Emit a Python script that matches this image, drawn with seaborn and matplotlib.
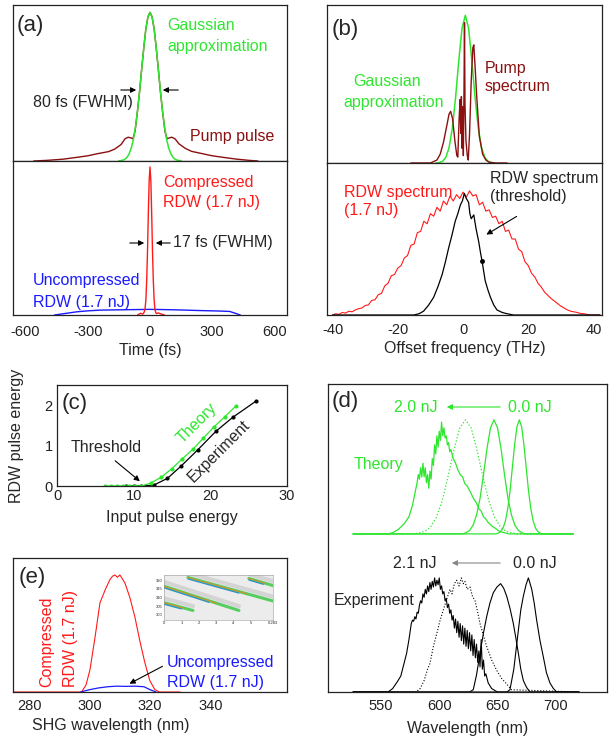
import matplotlib
matplotlib.use("Agg")
import matplotlib.pyplot as plt
import seaborn as sns

# ---------------------------------------------------------------- data
# (a) temporal profiles, time in fs
gauss_a_t = [-150, -140, -130, -120, -110, -100, -90, -80, -70, -60, -50, -40, -30, -20, -10, 0,
             10, 20, 30, 40, 50, 60, 70, 80, 90, 100, 110, 120, 130, 140, 150]
gauss_a_v = [0.001, 0.003, 0.006, 0.013, 0.026, 0.05, 0.088, 0.146, 0.229, 0.339, 0.472, 0.618, 0.763, 0.887, 0.97, 1.0,
             0.97, 0.887, 0.763, 0.618, 0.472, 0.339, 0.229, 0.146, 0.088, 0.05, 0.026, 0.013, 0.006, 0.003, 0.001]
pump_t = [-560, -500, -420, -350, -300, -250, -200, -170, -140, -120, -105, -92, -82, -72, -60, -50, -40, -30,
          -20, -10, 0, 10, 20, 30, 40, 50, 60, 72, 82, 92, 105, 120, 140, 170, 200, 250, 300, 350, 420, 480, 520]
pump_v = [0.0, 0.004, 0.012, 0.025, 0.035, 0.05, 0.063, 0.08, 0.11, 0.15, 0.16, 0.155, 0.15, 0.2, 0.34, 0.47, 0.62, 0.76,
          0.89, 0.97, 1.0, 0.97, 0.89, 0.76, 0.62, 0.47, 0.34, 0.2, 0.15, 0.155, 0.16, 0.15, 0.115, 0.085, 0.065, 0.05,
          0.035, 0.025, 0.012, 0.004, 0.0]
comp_t = [-60, -45, -36, -32, -28, -24, -20, -16, -12, -8, -4, 0, 4, 8, 12, 16, 20, 24, 28, 32, 40, 55, 70]
comp_v = [0.0, 0.012, 0.006, 0.01, 0.02, 0.04, 0.1, 0.23, 0.43, 0.69, 0.91, 1.0, 0.91, 0.69, 0.43, 0.23, 0.1, 0.036,
          0.015, 0.01, 0.014, 0.006, 0.0]
uncomp_t = [-460, -400, -350, -300, -240, -150, -50, 0, 50, 150, 240, 330, 384, 410, 435]
uncomp_v = [0.0, 0.012, 0.022, 0.028, 0.033, 0.035, 0.037, 0.038, 0.037, 0.034, 0.03, 0.027, 0.024, 0.012, 0.0]

# (b) spectra, offset frequency in THz
gauss_b_f = [-8.3, -7.3, -6.3, -5.3, -4.3, -3.3, -2.3, -1.3, -0.3, 0.7, 1.7, 2.7, 3.7, 4.7, 5.7, 6.7, 7.7, 8.7, 9.7]
gauss_b_v = [0.0, 0.003, 0.011, 0.037, 0.102, 0.232, 0.44, 0.695, 0.913, 1.0, 0.913, 0.695, 0.44, 0.232, 0.102,
             0.037, 0.011, 0.003, 0.0]
pump_f = [-16, -10, -8, -7, -6, -5, -4.3, -3.8, -3.2, -2.5, -1.9, -1.6, -1.2, -0.9, -0.7, -0.5, -0.3, -0.1, 0.1,
          0.3, 0.45, 0.6, 0.9, 1.3, 1.6, 2.0, 2.5, 3.0, 3.3, 3.7, 4.2, 5.0, 6.0, 7.0, 8.0, 10.0, 13.5]
pump_s = [0.0, 0.0, 0.02, 0.06, 0.14, 0.25, 0.33, 0.35, 0.3, 0.15, 0.05, 0.04, 0.3, 0.43, 0.2, 0.45, 0.1, 0.38, 0.05,
          0.5, 0.95, 0.4, 0.15, 0.05, 0.02, 0.2, 0.55, 0.78, 0.8, 0.65, 0.45, 0.18, 0.06, 0.02, 0.005, 0.0, 0.0]
rdw_f = [-40, -39, -38, -37, -36, -35, -34, -33, -32, -31, -30, -29, -28, -27, -26, -25, -24, -23, -22, -21,
         -20, -19, -18, -17, -16, -15, -14, -13, -12, -11, -10, -9, -8, -7, -6, -5, -4, -3, -2, -1,
         0, 1, 2, 3, 4, 5, 6, 7, 8, 9, 10, 11, 12, 13, 14, 15, 16, 17, 18, 19,
         20, 21, 22, 23, 24, 25, 26, 27, 28, 29, 30, 31, 32, 33, 34, 35, 36, 37, 38, 39, 40, 41, 42]
rdw_s = [0.0, 0.01, 0.005, 0.02, 0.015, 0.03, 0.025, 0.04, 0.05, 0.055, 0.075, 0.08, 0.115, 0.12, 0.16, 0.17,
         0.23, 0.25, 0.31, 0.32, 0.37, 0.39, 0.45, 0.47, 0.55, 0.56, 0.65, 0.66, 0.74, 0.72, 0.8, 0.78, 0.85, 0.82,
         0.9, 0.87, 0.94, 0.9, 0.95, 0.92, 0.97, 0.93, 0.98, 0.94, 0.95, 0.87, 0.89, 0.82, 0.83, 0.77, 0.78, 0.72,
         0.74, 0.66, 0.67, 0.6, 0.6, 0.52, 0.5, 0.42, 0.39, 0.33, 0.3, 0.25, 0.22, 0.18, 0.155, 0.13, 0.11, 0.09,
         0.07, 0.055, 0.04, 0.03, 0.025, 0.02, 0.012, 0.01, 0.005, 0.0, 0.0, 0.0, 0.0]
thr_f = [-40, -15.1, -13.5, -12.1, -10.5, -9.0, -7.6, -6.4, -5.4, -4.4, -3.4, -2.4, -1.6, -0.8, -0.2, 0.4, 1.0,
         1.7, 2.1, 2.5, 3.3, 4.0, 4.8, 5.3, 5.8, 6.3, 6.8, 7.6, 8.4, 9.4, 10.4, 12.0, 13.5, 15.5, 42]
thr_s = [0.0, 0.0, 0.01, 0.03, 0.08, 0.14, 0.23, 0.32, 0.42, 0.53, 0.63, 0.74, 0.8, 0.87, 0.9, 0.96, 0.92,
         0.89, 0.8, 0.76, 0.79, 0.68, 0.58, 0.5, 0.43, 0.35, 0.27, 0.2, 0.14, 0.08, 0.04, 0.02, 0.01, 0.0, 0.0]

# (c) RDW energy vs input energy
theory_in = [6.2, 7.0, 7.8, 8.6, 9.4, 10.2, 11.0, 12.2, 13.6, 14.96, 16.35, 17.8, 19.1, 20.5, 21.9, 23.35]
theory_out = [0, 0, 0, 0, 0, 0, 0, 0.07, 0.22, 0.43, 0.68, 0.93, 1.2, 1.48, 1.73, 2.0]
exp_in = [9.0, 10.0, 11.0, 12.6, 14.4, 16.2, 18.35, 20.7, 22.9, 25.9]
exp_out = [0, 0, 0, 0.02, 0.19, 0.5, 0.9, 1.36, 1.71, 2.11]

# (d) wavelength shifted spectra, nm
th0_wl = [526, 648.7, 650.7, 652.7, 654.7, 656.7, 658.7, 660.7, 662.7, 664.7, 666.7, 668.7, 670.7, 672.7, 674.7,
          676.7, 678.7, 680.7, 682.7, 684.7, 686.7, 688.7, 715]
th0_v = [0, 0, 0.007, 0.02, 0.05, 0.11, 0.215, 0.37, 0.575, 0.78, 0.94, 1.0, 0.94, 0.78, 0.575, 0.37, 0.215, 0.11,
         0.05, 0.02, 0.007, 0, 0]
th1_wl = [526, 620, 623, 626, 629, 632, 635, 638, 641, 644, 647, 650, 653, 656, 659, 662, 665, 668, 671, 674, 715]
th1_v = [0, 0, 0.01, 0.03, 0.075, 0.165, 0.31, 0.52, 0.75, 0.93, 1.0, 0.93, 0.75, 0.52, 0.31, 0.165, 0.075, 0.03,
         0.01, 0, 0]
th2_wl = [526, 577.5, 582.5, 587.5, 592.5, 597.5, 602.5, 607.5, 612.5, 617.5, 622.5, 627.5, 632.5, 637.5, 642.5,
          647.5, 652.5, 657.5, 662.5, 667.5, 715]
th2_v = [0, 0, 0.007, 0.022, 0.06, 0.145, 0.29, 0.5, 0.73, 0.926, 1.0, 0.926, 0.73, 0.5, 0.29, 0.145, 0.06, 0.022,
         0.007, 0, 0]
th3_wl = [526, 556, 560, 565, 570, 574, 577, 579, 581, 582, 583, 584, 585, 586, 587, 588, 589, 590, 591, 592, 593,
          594, 595, 596, 597, 598, 599, 600, 601, 602, 603, 604, 605, 606, 607, 608, 609, 610, 612, 614, 616, 618,
          620, 622, 624, 626, 628, 630, 632, 634, 636, 638, 640, 642, 645, 648, 652, 656, 660, 715]
th3_v = [0, 0, 0.01, 0.04, 0.09, 0.15, 0.25, 0.35, 0.45, 0.52, 0.48, 0.58, 0.5, 0.62, 0.5, 0.58, 0.45, 0.52, 0.4,
         0.55, 0.48, 0.66, 0.6, 0.78, 0.7, 0.86, 0.76, 0.9, 0.82, 0.98, 0.86, 0.93, 0.84, 0.86, 0.78, 0.8, 0.72,
         0.74, 0.66, 0.62, 0.56, 0.52, 0.5, 0.44, 0.42, 0.38, 0.34, 0.3, 0.27, 0.22, 0.2, 0.15, 0.13, 0.1, 0.07,
         0.05, 0.02, 0.01, 0, 0]
ex0_wl = [526, 658, 660.7, 664, 667.9, 670, 672.2, 674.5, 676.5, 678, 679.4, 681.5, 683.6, 686.5, 689.3, 692, 695,
          698, 700.8, 720]
ex0_v = [0, 0, 0.02, 0.2, 0.54, 0.72, 0.84, 0.94, 1.0, 0.95, 0.9, 0.78, 0.63, 0.45, 0.31, 0.17, 0.08, 0.03, 0, 0]
ex1_wl = [526, 626, 629.2, 632, 635, 638, 640.7, 643.5, 646.4, 649.5, 652.7, 655.3, 657.9, 660.8, 663.6, 665.8,
          667.9, 670, 672.2, 675, 677.9, 720]
ex1_v = [0, 0, 0.02, 0.15, 0.34, 0.52, 0.66, 0.78, 0.87, 0.92, 0.95, 0.91, 0.84, 0.73, 0.6, 0.47, 0.34, 0.2, 0.1,
         0.04, 0, 0]
ex2_wl = [526, 580, 583.5, 587, 590, 592, 595, 597.8, 600.5, 603.5, 606, 609.2, 611, 613, 615, 617, 619, 620.6,
          622, 624, 626.4, 628.5, 630.7, 633, 635, 637.8, 640.7, 645, 649.3, 653.5, 657.9, 662, 720]
ex2_v = [0, 0, 0.03, 0.1, 0.2, 0.25, 0.4, 0.51, 0.62, 0.72, 0.8, 0.9, 0.86, 0.95, 0.98, 0.93, 1.0, 0.95, 0.97,
         0.9, 0.92, 0.84, 0.8, 0.7, 0.6, 0.5, 0.4, 0.28, 0.19, 0.12, 0.07, 0.02, 0]
ex3_wl = [526, 556, 560, 564, 567, 570, 572, 574, 576, 577, 578, 579, 580, 581, 582, 583, 584, 585, 586, 587, 588,
          589, 590, 591, 592, 593, 594, 595, 596, 597, 598, 599, 600, 601, 602, 603, 604, 605, 606, 607, 608, 609,
          610, 611, 612, 613, 614, 615, 616, 617, 618, 619, 620, 621, 622, 623, 624, 625, 626, 627, 628, 629, 630,
          631, 632, 633, 634, 635, 636, 637, 638, 639, 640, 642, 645, 650, 720]
ex3_v = [0, 0, 0.03, 0.09, 0.14, 0.26, 0.34, 0.46, 0.6, 0.63, 0.62, 0.66, 0.64, 0.7, 0.69, 0.76, 0.8, 0.78, 0.86,
         0.83, 0.9, 0.86, 0.93, 0.88, 0.96, 0.9, 0.97, 0.92, 1.0, 0.93, 0.98, 0.94, 1.0, 0.9, 0.93, 0.86, 0.88, 0.8,
         0.82, 0.74, 0.77, 0.69, 0.72, 0.63, 0.67, 0.56, 0.64, 0.52, 0.62, 0.48, 0.6, 0.45, 0.58, 0.42, 0.56, 0.4,
         0.54, 0.38, 0.52, 0.36, 0.5, 0.32, 0.46, 0.3, 0.42, 0.26, 0.36, 0.22, 0.46, 0.2, 0.28, 0.14, 0.16, 0.08,
         0.03, 0, 0]

# (e) SHG spectra, nm
comp_wl = [274, 297.3, 298.8, 300.1, 301.8, 303.4, 305.1, 306.7, 307.6, 308.4, 309.2, 310, 310.8, 311.7, 313.3,
           315, 316.6, 318.3, 319.9, 321.6, 323.2, 330]
comp_s = [0, 0, 0.06, 0.19, 0.47, 0.76, 0.87, 0.96, 0.99, 1.0, 0.98, 1.0, 0.97, 0.93, 0.81, 0.64, 0.44, 0.25, 0.1,
          0.02, 0, 0]
uncomp_wl = [297, 300, 303, 306, 309, 312, 315, 318, 320, 322]
uncomp_s = [0, 0.02, 0.035, 0.045, 0.05, 0.048, 0.05, 0.045, 0.02, 0]

# (e) inset: streak start / end points
stripe_x0 = [0.0, 1.38, 0.0, 4.89]
stripe_y0 = [316.5, 321.6, 307.0, 321.0]
stripe_x1 = [4.32, 6.28, 1.67, 6.28]
stripe_y1 = [302.5, 308.0, 302.5, 316.9]

# ---------------------------------------------------------------- style
sns.set_style("white")
plt.rcParams["font.family"] = ["Liberation Sans", "DejaVu Sans"]
plt.rcParams["axes.linewidth"] = 0.9
plt.rcParams["axes.edgecolor"] = "#222222"
plt.rcParams["axes.unicode_minus"] = False

GREEN = "#2ee62e"
MAROON = "#8b1010"
RED = "#ff1a1a"
BLUE = "#1a1aff"
W, H = 609, 745
FS = 11.5
PFS = 16

fig = plt.figure(figsize=(W / 100, H / 100), dpi=100)


def box(x0, y0, x1, y1):
    ax = fig.add_axes([x0 / W, 1 - y1 / H, (x1 - x0) / W, (y1 - y0) / H])
    ax.tick_params(labelsize=10.5, length=0, colors="#222222")
    return ax


def ftext(x, y, s, ha="left", **kw):
    fig.text(x / W, 1 - y / H, s, ha=ha, va="center", fontsize=kw.pop("fontsize", FS), **kw)


def farrow(x0, y0, x1, y1, color="k"):
    fig.add_artist(matplotlib.patches.FancyArrowPatch(
        (x0 / W, 1 - y0 / H), (x1 / W, 1 - y1 / H), transform=fig.transFigure,
        arrowstyle="-|>", mutation_scale=8, color=color, lw=0.8))


def line(ax, x, y, color, lw=1.0, **kw):
    sns.lineplot(x=x, y=y, ax=ax, color=color, linewidth=lw, estimator=None, **kw)


# ---------------------------------------------------------------- (a)
a1 = box(13, 5, 287, 161)
a2 = box(13, 161, 287, 315)
line(a1, pump_t, pump_v, MAROON)
line(a1, gauss_a_t, gauss_a_v, GREEN, 1.1)
line(a2, uncomp_t, uncomp_v, BLUE)
line(a2, comp_t, comp_v, RED)
for ax in (a1, a2):
    ax.set_xlim(-660, 660)
a1.set_ylim(0, 1.05)
a2.set_ylim(0, 1.04)
a1.set_xticks([])
a1.set_yticks([])
a2.set_yticks([])
a2.set_xticks([-600, -300, 0, 300, 600])
a2.tick_params(axis="x", pad=7)
a2.set_xlabel("Time (fs)", fontsize=FS, labelpad=3)

ftext(17, 25, "(a)", fontsize=PFS)
ftext(167, 25, "Gaussian", color=GREEN)
ftext(167, 46, "approximation", color=GREEN)
ftext(33, 103, "80 fs (FWHM)")
farrow(118, 90, 139, 90)
farrow(181, 90, 160, 90)
ftext(190, 137, "Pump pulse", color=MAROON)
ftext(163, 183, "Compressed", color=RED)
ftext(163, 203, "RDW (1.7 nJ)", color=RED)
farrow(127, 243, 147, 243)
farrow(173, 243, 153, 243)
ftext(173, 243, "17 fs (FWHM)")
ftext(33, 281, "Uncompressed", color=BLUE)
ftext(33, 302, "RDW (1.7 nJ)", color=BLUE)

# ---------------------------------------------------------------- (b)
b1 = box(327, 5, 602, 163)
b2 = box(327, 163, 602, 315)
line(b1, gauss_b_f, gauss_b_v, GREEN, 1.1)
line(b1, pump_f, pump_s, MAROON)
line(b2, rdw_f, rdw_s, RED, 0.8)
line(b2, thr_f, thr_s, "k", 0.9)
b2.plot([5.8], [0.43], "o", color="k", ms=2.5)
for ax in (b1, b2):
    ax.set_xlim(-41.7, 42.6)
b1.set_ylim(0, 1.07)
b2.set_ylim(0, 1.2)
b1.set_xticks([])
b1.set_yticks([])
b2.set_yticks([])
b2.set_xticks([-40, -20, 0, 20, 40])
b2.tick_params(axis="x", direction="in", length=3, pad=6)
b2.set_xlabel("Offset frequency (THz)", fontsize=FS, labelpad=3)

ftext(332, 30, "(b)", fontsize=PFS)
ftext(353, 82, "Gaussian", color=GREEN)
ftext(343, 102, "approximation", color=GREEN)
ftext(485, 68, "Pump", color=MAROON)
ftext(485, 87, "spectrum", color=MAROON)
ftext(344, 192, "RDW spectrum", color=RED)
ftext(344, 210, "(1.7 nJ)", color=RED)
ftext(490, 178, "RDW spectrum")
ftext(490, 197, "(threshold)")
farrow(519, 215, 484, 236)

# ---------------------------------------------------------------- (c)
c = box(57, 385, 287, 486)
line(c, exp_in, exp_out, "k", 0.9, marker="o", markersize=3, markeredgewidth=0)
line(c, theory_in, theory_out, GREEN, 0.9, marker="o", markersize=3, markeredgewidth=0)
c.set_xlim(0, 30)
c.set_ylim(0, 2.52)
c.set_xticks([0, 10, 20, 30])
c.set_yticks([0, 1, 2])
c.tick_params(axis="x", pad=2)
c.tick_params(axis="y", pad=3)
c.set_xlabel("Input pulse energy", fontsize=FS, labelpad=5)
c.set_ylabel("RDW pulse energy", fontsize=FS, labelpad=15)

ftext(62, 403, "(c)", fontsize=PFS)
ftext(197, 423, "Theory", ha="center", color=GREEN, rotation=45)
ftext(219, 451, "Experiment", ha="center", rotation=45)
ftext(106, 448, "Threshold", ha="center")
farrow(113, 459, 142, 483)

# ---------------------------------------------------------------- (d)
d = box(328, 384, 607, 692)
base = 1.386
line(d, th0_wl, [v + base for v in th0_v], GREEN, 0.9)
line(d, th1_wl, [v + base for v in th1_v], GREEN, 0.9)
line(d, th2_wl, [v + base for v in th2_v], GREEN, 0.9, linestyle=":")
line(d, th3_wl, [v + base for v in th3_v], GREEN, 0.9)
line(d, ex0_wl, ex0_v, "k", 0.8)
line(d, ex1_wl, ex1_v, "k", 0.8)
line(d, ex2_wl, ex2_v, "k", 0.8, linestyle=":")
line(d, ex3_wl, ex3_v, "k", 0.8)
d.set_xlim(504.5, 744)
d.set_ylim(0, 2.7)
d.set_yticks([])
d.set_xticks([550, 600, 650, 700])
d.tick_params(axis="x", pad=5)
d.set_xlabel("Wavelength (nm)", fontsize=FS, labelpad=6)

ftext(332, 402, "(d)", fontsize=PFS)
ftext(416, 407, "2.0 nJ", ha="center", color=GREEN)
ftext(530, 407, "0.0 nJ", ha="center", color=GREEN)
farrow(503, 407, 444, 407, color=GREEN)
ftext(379, 465, "Theory", ha="center", color=GREEN)
ftext(415, 563, "2.1 nJ", ha="center")
ftext(535, 563, "0.0 nJ", ha="center")
farrow(503, 563, 449, 563, color="#888888")
ftext(374, 600, "Experiment", ha="center")

# ---------------------------------------------------------------- (e)
e = box(13, 558, 287, 692)
line(e, comp_wl, comp_s, RED, 0.8)
line(e, uncomp_wl, uncomp_s, BLUE, 0.9)
e.set_xlim(274.6, 365.4)
e.set_ylim(0, 1.145)
e.set_yticks([])
e.set_xticks([280, 300, 320, 340])
e.tick_params(axis="x", pad=5)
e.set_xlabel("SHG wavelength (nm)", fontsize=FS)
e.xaxis.set_label_coords((111 - 13) / 274, -26 / 134)

ftext(19, 578, "(e)", fontsize=PFS)
fig.text(47 / W, 1 - 687 / H, "Compressed", rotation=90, ha="center", va="bottom", fontsize=FS, color=RED)
fig.text(70 / W, 1 - 687 / H, "RDW (1.7 nJ)", rotation=90, ha="center", va="bottom", fontsize=FS, color=RED)
ftext(167, 662, "Uncompressed", color=BLUE)
ftext(167, 682, "RDW (1.7 nJ)", color=BLUE)
farrow(165, 665, 127, 685)

ins = box(164, 575, 273, 620)
ins.set_facecolor("#ececec")
for x0, y0, x1, y1 in zip(stripe_x0, stripe_y0, stripe_x1, stripe_y1):
    line(ins, [x0, x1], [y0 + 2.5, y1 + 2.5], "#d4d4d4", 3.0)
    line(ins, [x0, x1], [y0, y1], "#3cc848", 2.2, alpha=0.85)
    line(ins, [x0, x0 + 0.6 * (x1 - x0)], [y0 - 0.9, y0 - 0.9 + 0.6 * (y1 - y0)], "#2a90d0", 0.9)
    line(ins, [x0, x0 + 0.7 * (x1 - x0)], [y0, y0 + 0.7 * (y1 - y0)], "#f08020", 0.6)
ins.set_xlim(0, 6.283)
ins.set_ylim(297, 323)
ins.set_xticks([0, 1, 2, 3, 4, 5, 6.283])
ins.set_xticklabels(["0", "1", "2", "3", "4", "5", "6.283"])
ins.set_yticks([300, 305, 310, 315, 320])
ins.tick_params(labelsize=3, pad=1, length=0)
for sp in ins.spines.values():
    sp.set_linewidth(0.4)
    sp.set_color("#999999")

fig.savefig("out.png", dpi=100)
